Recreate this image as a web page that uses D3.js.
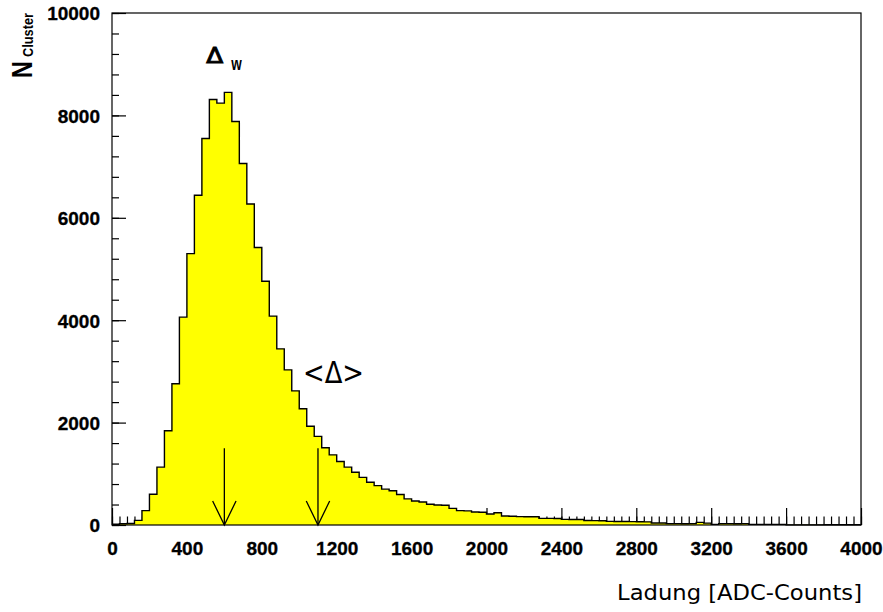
<!DOCTYPE html>
<html>
<head>
<meta charset="utf-8">
<script src="https://cdn.jsdelivr.net/npm/d3@7"></script>
<style>
  html, body { margin: 0; padding: 0; background: #fff; }
  svg { display: block; }
</style>
</head>
<body>
<svg id="chart" width="883" height="612"></svg>
<script>
// Cluster charge spectrum: 100 bins of 40 ADC counts from 0 to 4000
const binWidth = 40;
const counts = [
  15, 25, 30, 90, 280, 600, 1130, 1840, 2760, 4060,
  5300, 6440, 7550, 8310, 8240, 8450, 7880, 7060, 6270, 5420,
  4760, 4080, 3440, 3030, 2620, 2270, 1930, 1730, 1510, 1370,
  1240, 1130, 1030, 930, 835, 770, 700, 670, 595, 510,
  470, 450, 405, 390, 385, 325, 280, 275, 255, 250,
  215, 240, 176, 172, 163, 160, 160, 130, 130, 128,
  110, 108, 106, 88, 85, 84, 70, 68, 67, 65,
  64, 62, 40, 38, 26, 26, 25, 26, 52, 36,
  13, 26, 26, 25, 26, 13, 13, 12, 13, 12,
  3, 3, 3, 3, 3, 5, 5, 5, 5, 5
];

// Axis ticks
const xMajorTicks = d3.range(0, 4001, 400);
const xMinorTicks = d3.range(0, 4001, 40);
const yMajorTicks = d3.range(0, 10001, 2000);
const yMinorTicks = d3.range(0, 10001, 400);

// Most probable value and mean of the distribution (arrow markers)
const mpvCharge = 600;
const meanCharge = 1100;
const arrowTop = 1500;

const xTitle = "Ladung [ADC-Counts]";
const yTitleMain = "N";
const yTitleSub = "Cluster";

const svg = d3.select("#chart");
const frame = { left: 112, right: 861, top: 13, bottom: 525 };

const x = d3.scaleLinear().domain([0, 4000]).range([frame.left, frame.right]);
const y = d3.scaleLinear().domain([0, 10000]).range([frame.bottom, frame.top]);

svg.append("rect").attr("width", 883).attr("height", 612).attr("fill", "#fff");

const tickFont = "'Liberation Sans', Arial, Helvetica, sans-serif";

// X axis: ticks point up into the frame
const xMinor = svg.append("g")
  .attr("transform", `translate(0,${frame.bottom})`)
  .call(d3.axisBottom(x).tickValues(xMinorTicks).tickSize(-8.5).tickFormat(""));
const xMajor = svg.append("g")
  .attr("transform", `translate(0,${frame.bottom})`)
  .call(d3.axisBottom(x).tickValues(xMajorTicks).tickSize(-17).tickPadding(16.5).tickFormat(d3.format("d")));

// Y axis: ticks point right into the frame
const yMinor = svg.append("g")
  .attr("transform", `translate(${frame.left},0)`)
  .call(d3.axisLeft(y).tickValues(yMinorTicks).tickSize(-7).tickFormat(""));
const yMajor = svg.append("g")
  .attr("transform", `translate(${frame.left},0)`)
  .call(d3.axisLeft(y).tickValues(yMajorTicks).tickSize(-14).tickPadding(12).tickFormat(d3.format("d")));

[xMinor, xMajor, yMinor, yMajor].forEach(g => {
  g.select(".domain").remove();
  g.selectAll(".tick line").attr("stroke", "#000").attr("stroke-width", 1.2);
  g.selectAll("text")
    .attr("fill", "#000")
    .attr("stroke", "#000").attr("stroke-width", 0.3)
    .style("font-family", tickFont)
    .style("font-weight", "bold")
    .style("font-size", "19px");
});
yMajor.selectAll("text").attr("dy", "0.36em");

// Histogram: step outline with yellow fill
const steps = counts.map((c, i) => ({ x0: i * binWidth, v: c }));
steps.push({ x0: counts.length * binWidth, v: counts[counts.length - 1] });

const area = d3.area()
  .curve(d3.curveStepAfter)
  .x(d => x(d.x0))
  .y0(y(0))
  .y1(d => y(d.v));
const line = d3.line()
  .curve(d3.curveStepAfter)
  .x(d => x(d.x0))
  .y(d => y(d.v));

svg.append("path")
  .datum(steps)
  .attr("d", area)
  .attr("fill", "#ffff00");
svg.append("path")
  .datum(steps)
  .attr("d", line)
  .attr("fill", "none")
  .attr("stroke", "#000")
  .attr("stroke-width", 1.4);

// Frame
svg.append("rect")
  .attr("x", frame.left)
  .attr("y", frame.top)
  .attr("width", frame.right - frame.left)
  .attr("height", frame.bottom - frame.top)
  .attr("fill", "none")
  .attr("stroke", "#000")
  .attr("stroke-width", 1.2);

// Arrows marking the most probable and the mean charge
const headHalfWidth = 11.7, headLength = 24;
[mpvCharge, meanCharge].forEach(v => {
  const ax = x(v), tip = y(0);
  const g = svg.append("g").attr("stroke", "#000").attr("stroke-width", 1.3).attr("fill", "none");
  g.append("line").attr("x1", ax).attr("x2", ax).attr("y1", y(arrowTop)).attr("y2", tip);
  g.append("path").attr("d",
    `M${ax - headHalfWidth},${tip - headLength}L${ax},${tip}L${ax + headHalfWidth},${tip - headLength}`);
});

// Marker labels
const labelFont = "'DejaVu Sans', sans-serif";
const dw = svg.append("g").attr("transform", `translate(${x(mpvCharge) - 18},${y(9030)})`);
dw.append("text")
  .attr("x", 0).attr("y", 0)
  .attr("textLength", 17).attr("lengthAdjust", "spacingAndGlyphs")
  .attr("stroke", "#000").attr("stroke-width", 0.9)
  .style("font-family", labelFont).style("font-size", "22px")
  .text("Δ");
dw.append("text")
  .attr("x", 25).attr("y", 7)
  .attr("textLength", 10.5).attr("lengthAdjust", "spacingAndGlyphs")
  .style("font-family", tickFont).style("font-size", "19px").style("font-weight", "bold")
  .text("w");

svg.append("text")
  .attr("x", x(meanCharge) - 15)
  .attr("y", y(2780))
  .attr("textLength", 61).attr("lengthAdjust", "spacingAndGlyphs")
  .style("font-family", labelFont).style("font-size", "31px")
  .text("<Δ>");

// Axis titles
svg.append("text")
  .attr("x", 862).attr("y", 600)
  .attr("text-anchor", "end")
  .attr("textLength", 245).attr("lengthAdjust", "spacingAndGlyphs")
  .style("font-family", "'DejaVu Sans', sans-serif")
  .style("font-size", "20.5px")
  .text(xTitle);

svg.append("text")
  .attr("transform", "translate(32,78) rotate(-90) scale(0.8,1)")
  .style("font-family", tickFont).style("font-weight", "bold").style("font-size", "29px")
  .text(yTitleMain);
svg.append("text")
  .attr("transform", "translate(33.3,57) rotate(-90)")
  .attr("textLength", 44).attr("lengthAdjust", "spacingAndGlyphs")
  .style("font-family", tickFont).style("font-weight", "bold").style("font-size", "15px")
  .text(yTitleSub);
</script>
</body>
</html>
